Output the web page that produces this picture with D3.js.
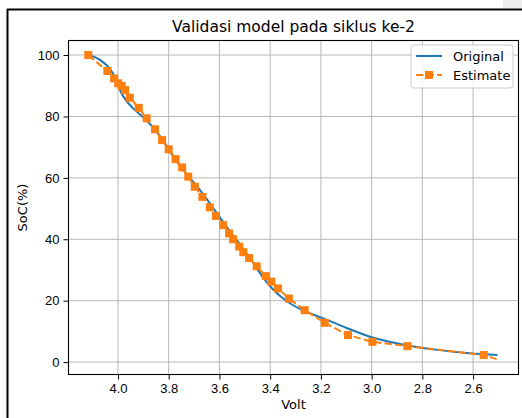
<!DOCTYPE html>
<html>
<head>
<meta charset="utf-8">
<script src="https://cdn.jsdelivr.net/npm/d3@7"></script>
<style>
  body { margin: 0; background: #fff; }
  svg { display: block; font-family: "DejaVu Sans", sans-serif; }
  .grid line { stroke: #b0b0b0; stroke-width: 0.9; }
  .axis path { stroke: #000; }
  .axis text { font-size: 13px; fill: #000; }
</style>
</head>
<body>
<div id="chart"></div>
<script>
// original discharge curve (volt vs SoC)
const origVolt = [4.117, 4.091, 4.059, 4.031, 4.012, 4.0, 3.988, 3.969, 3.941, 3.902, 3.862, 3.823,
  3.783, 3.736, 3.689, 3.650, 3.610, 3.571, 3.520, 3.469, 3.429, 3.390, 3.350, 3.311, 3.272,
  3.193, 3.098, 3.0, 2.862, 2.732, 2.614, 2.504];
const origSoc = [100, 99.3, 97.7, 95.4, 92.8, 90.2, 87.9, 85.3, 82.7, 79.8, 76.5, 72.3,
  67.1, 61.9, 57.3, 53.1, 48.5, 44.0, 38.4, 32.6, 27.7, 23.8, 20.8, 18.6, 16.9,
  14.3, 11.1, 8.1, 5.5, 3.9, 2.9, 2.3];

// model estimate
const estVolt = [4.117, 4.042, 4.015, 3.999, 3.985, 3.972, 3.953, 3.918, 3.887, 3.854, 3.826, 3.800,
  3.773, 3.747, 3.723, 3.697, 3.667, 3.638, 3.614, 3.585, 3.562, 3.546, 3.522, 3.506, 3.483,
  3.453, 3.417, 3.395, 3.369, 3.326, 3.264, 3.185, 3.093, 2.997, 2.859, 2.558, 2.505];
const estSoc = [100, 94.8, 92.4, 90.8, 89.9, 88.6, 86.1, 82.8, 79.4, 75.8, 72.3, 69.3,
  66.1, 63.4, 60.4, 57.1, 53.8, 50.4, 47.6, 44.6, 41.9, 40.0, 37.6, 35.8, 33.9,
  31.2, 28.0, 26.2, 24.0, 20.7, 16.9, 12.8, 8.8, 6.6, 5.2, 2.3, 0.9];
const estNoMarker = [36];

const xTicks = [4.0, 3.8, 3.6, 3.4, 3.2, 3.0, 2.8, 2.6];
const yTicks = [0, 20, 40, 60, 80, 100];

const W = 522, H = 418;
const margin = { top: 40, right: 3, bottom: 43, left: 68 };

const svg = d3.select("#chart").append("svg")
    .attr("width", W)
    .attr("height", H);

// screenshot frame
svg.append("rect").attr("x", 503).attr("y", 0).attr("width", 19).attr("height", 8).attr("fill", "#ececec");
svg.append("line").attr("x1", 7.5).attr("x2", 7.5).attr("y1", 9).attr("y2", H).attr("stroke", "#000").attr("stroke-width", 2);
svg.append("line").attr("x1", 7).attr("x2", W).attr("y1", 9.5).attr("y2", 9.5).attr("stroke", "#000").attr("stroke-width", 2);

const x = d3.scaleLinear().domain([4.197, 2.419]).range([margin.left, W - margin.right]);
const y = d3.scaleLinear().domain([-4.2, 104.9]).range([H - margin.bottom, margin.top]);

// grid
const grid = svg.append("g").attr("class", "grid");
grid.selectAll(".gx").data(xTicks).enter().append("line")
    .attr("x1", d => x(d)).attr("x2", d => x(d))
    .attr("y1", margin.top).attr("y2", H - margin.bottom);
grid.selectAll(".gy").data(yTicks).enter().append("line")
    .attr("x1", margin.left).attr("x2", W - margin.right)
    .attr("y1", d => y(d)).attr("y2", d => y(d));

const plot = svg.append("g");

plot.append("path")
    .datum(origVolt.map((v, i) => [v, origSoc[i]]))
    .attr("fill", "none")
    .attr("stroke", "#1f77b4")
    .attr("stroke-width", 2)
    .attr("d", d3.line().x(d => x(d[0])).y(d => y(d[1])).curve(d3.curveMonotoneX));

const est = estVolt.map((v, i) => [v, estSoc[i], i]);
plot.append("path")
    .datum(est)
    .attr("fill", "none")
    .attr("stroke", "#ff7f0e")
    .attr("stroke-width", 2)
    .attr("stroke-dasharray", "7.4,3.2")
    .attr("d", d3.line().x(d => x(d[0])).y(d => y(d[1])));

plot.selectAll(".mk").data(est.filter(d => !estNoMarker.includes(d[2]))).enter().append("rect")
    .attr("x", d => x(d[0]) - 4)
    .attr("y", d => y(d[1]) - 4)
    .attr("width", 8).attr("height", 8)
    .attr("fill", "#ff7f0e");

// axes
svg.append("g")
    .attr("class", "axis")
    .attr("transform", `translate(0,${H - margin.bottom})`)
    .call(d3.axisBottom(x).tickValues(xTicks).tickFormat(d3.format(".1f")).tickSize(4.5).tickPadding(4));
svg.append("g")
    .attr("class", "axis")
    .attr("transform", `translate(${margin.left},0)`)
    .call(d3.axisLeft(y).tickValues(yTicks).tickSize(4.5).tickPadding(4));
svg.selectAll(".axis .domain").remove();

svg.append("rect")
    .attr("x", margin.left + 0.5).attr("y", margin.top + 0.5)
    .attr("width", W - margin.left - margin.right - 1)
    .attr("height", H - margin.top - margin.bottom - 1)
    .attr("fill", "none").attr("stroke", "#000").attr("stroke-width", 1.1);

// title and labels
svg.append("text")
    .attr("x", (margin.left + W - margin.right) / 2).attr("y", 32)
    .attr("text-anchor", "middle").attr("font-size", 15.5)
    .text("Validasi model pada siklus ke-2");
svg.append("text")
    .attr("x", (margin.left + W - margin.right) / 2).attr("y", 409)
    .attr("text-anchor", "middle").attr("font-size", 13)
    .text("Volt");
svg.append("text")
    .attr("transform", `translate(27,${(margin.top + H - margin.bottom) / 2}) rotate(-90)`)
    .attr("text-anchor", "middle").attr("font-size", 13)
    .text("SoC(%)");

// legend
const lg = svg.append("g").attr("transform", "translate(411,45)");
lg.append("rect")
    .attr("width", 102).attr("height", 43).attr("rx", 3)
    .attr("fill", "#fff").attr("fill-opacity", 0.8)
    .attr("stroke", "#cccccc");
lg.append("line").attr("x1", 5).attr("x2", 31).attr("y1", 11).attr("y2", 11)
    .attr("stroke", "#1f77b4").attr("stroke-width", 2);
lg.append("text").attr("x", 42).attr("y", 15.5).attr("font-size", 13).text("Original");
lg.append("line").attr("x1", 5).attr("x2", 31).attr("y1", 30).attr("y2", 30)
    .attr("stroke", "#ff7f0e").attr("stroke-width", 2).attr("stroke-dasharray", "7.4,3.2");
lg.append("rect").attr("x", 14).attr("y", 26).attr("width", 8).attr("height", 8).attr("fill", "#ff7f0e");
lg.append("text").attr("x", 42).attr("y", 34.5).attr("font-size", 13).text("Estimate");
</script>
</body>
</html>
